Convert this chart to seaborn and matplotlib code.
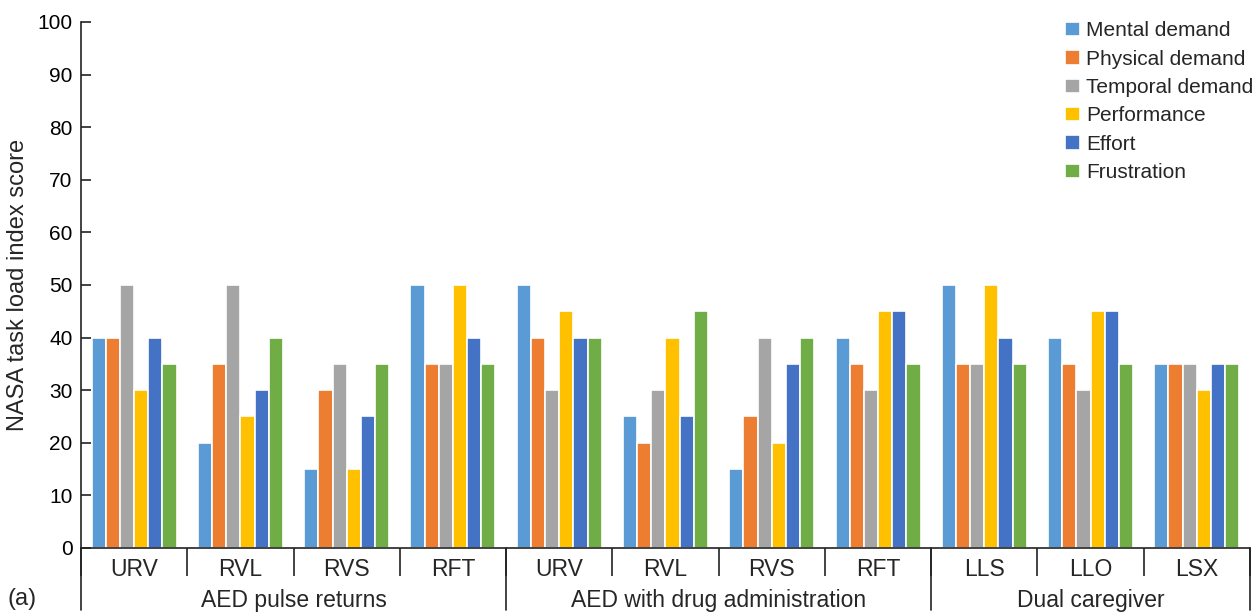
import seaborn as sns
from matplotlib import pyplot as plt
import matplotlib.transforms as mtransforms
import pandas as pd
import numpy as np

# categories and groups
groups = ["AED pulse returns", "AED with drug administration", "Dual caregiver"]
group_sizes = [4, 4, 3]
cats = ["URV", "RVL", "RVS", "RFT", "URV", "RVL", "RVS", "RFT", "LLS", "LLO", "LSX"]

series = ["Mental demand", "Physical demand", "Temporal demand",
          "Performance", "Effort", "Frustration"]
mental = [40, 20, 15, 50, 50, 25, 15, 40, 50, 40, 35]
physical = [40, 35, 30, 35, 40, 20, 25, 35, 35, 35, 35]
temporal = [50, 50, 35, 35, 30, 30, 40, 30, 35, 30, 35]
performance = [30, 25, 15, 50, 45, 40, 20, 45, 50, 45, 30]
effort = [40, 30, 25, 40, 40, 25, 35, 45, 40, 45, 35]
frustration = [35, 40, 35, 35, 40, 45, 40, 35, 35, 35, 35]

colors = ["#5B9BD5", "#ED7D31", "#A5A5A5", "#FFC000", "#4472C4", "#70AD47"]

# long table, one unique slot per category position
slots = [f"{i:02d}_{c}" for i, c in enumerate(cats)]
rows = []
for name, vals in zip(series, [mental, physical, temporal, performance, effort, frustration]):
    for s, v in zip(slots, vals):
        rows.append({"slot": s, "measure": name, "score": v})
df = pd.DataFrame(rows)

sns.set_style("white")
plt.rcParams["font.family"] = ["Liberation Sans", "DejaVu Sans"]

fig = plt.figure(figsize=(12.58, 6.12), dpi=100)
ax = fig.add_axes([0.0644, 0.1046, 0.9292, 0.8595])

sns.barplot(data=df, x="slot", y="score", hue="measure", order=slots,
            hue_order=series, palette=colors, width=0.8, saturation=1,
            edgecolor="white", linewidth=1.2, ax=ax)

ax.set_xlim(-0.5, len(cats) - 0.5)
ax.set_ylim(0, 100)
ax.set_yticks(range(0, 101, 10))
ax.tick_params(axis="y", left=True, direction="in", length=7, width=1.2,
               labelsize=15, pad=6, colors="#222222", labelcolor="black")
ax.set_ylabel("NASA task load index score", fontsize=17, labelpad=6)
ax.set_xlabel("")

# category labels, with separator ticks between categories
ax.set_xticks(range(len(cats)))
ax.set_xticklabels(cats, fontsize=16.5)
ax.tick_params(axis="x", which="major", bottom=True, length=0, pad=7)
ax.set_xticks(np.arange(-0.5, len(cats)), minor=True)
ax.tick_params(axis="x", which="minor", bottom=True, direction="out",
               length=20, width=1.2, color="#222222")

sns.despine(ax=ax)
for sp in ["left", "bottom"]:
    ax.spines[sp].set_color("#222222")
    ax.spines[sp].set_linewidth(1.2)

# group labels and long separators
trans = mtransforms.blended_transform_factory(ax.transData, ax.transAxes)
edges = np.concatenate([[0], np.cumsum(group_sizes)]) - 0.5
for e in edges:
    ax.plot([e, e], [0, -0.118], transform=trans, color="#222222",
            lw=1.2, clip_on=False)
for g, a, b in zip(groups, edges[:-1], edges[1:]):
    ax.text((a + b) / 2, -0.1, g, transform=trans, ha="center", va="center",
            fontsize=16.5)
fig.text(0.006, 0.022, "(a)", fontsize=17, va="center")

handles, labels = ax.get_legend_handles_labels()
ax.legend(handles, labels, loc="upper right", bbox_to_anchor=(1.012, 1.021),
          frameon=False, fontsize=15, handlelength=0.7, handleheight=0.7,
          handletextpad=0.3, labelspacing=0.45, borderpad=0)

fig.savefig("out.png", dpi=100)
